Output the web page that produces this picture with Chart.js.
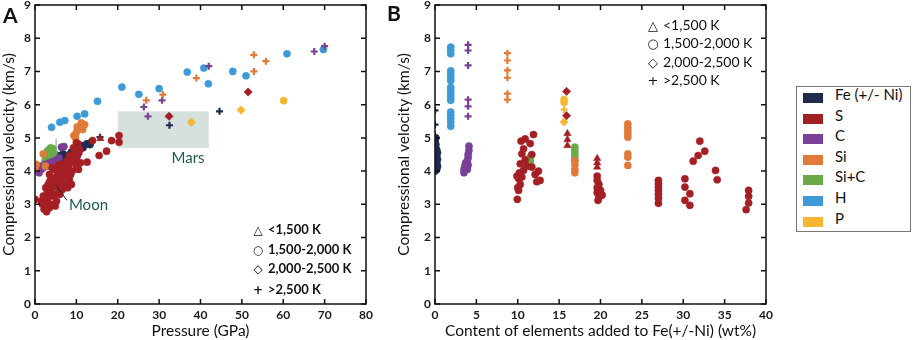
<!DOCTYPE html>
<html><head><meta charset="utf-8">
<script src="https://cdn.jsdelivr.net/npm/chart.js@4.4.1/dist/chart.umd.min.js"></script>
<style>
html,body{margin:0;padding:0;background:#fff;width:913px;height:340px;overflow:hidden;font-family:Lato,"Open Sans",sans-serif;}
.cv{position:absolute;top:-10px;}
.t{position:absolute;white-space:nowrap;color:#111;line-height:1;}
.panel{font-weight:bold;font-size:21px;}
.sym{font-family:"DejaVu Sans";display:inline-block;width:12px;text-align:center;margin-right:4px;}
#legend{position:absolute;left:796px;top:86px;width:115px;height:146px;border:1px solid #777;box-sizing:border-box;}
.li{position:absolute;left:6px;height:20px;font-size:15px;color:#111;}
.sw{position:absolute;left:0;width:20px;height:10px;}
.ln{position:absolute;left:32px;top:-8px;white-space:nowrap;}
</style></head><body>
<canvas id="cA" class="cv" style="left:0px" width="390" height="350"></canvas>
<canvas id="cB" class="cv" style="left:395px" width="390" height="350"></canvas>
<div class="t panel" style="left:3px;top:4px;">A</div>
<div class="t panel" style="left:387px;top:2px;">B</div>
<div id="symA"></div><div id="symB"></div>
<div id="legend"></div>
<script>
// ---------- categories ----------
const elementNames = ['Fe (+/- Ni)','S','C','Si','Si+C','H','P'];
const elementColors = ['#1e2b4f','#a41f24','#7a3f97','#e07a38','#6aaa4a','#3d9ad6','#f5b731'];
const tempLabels = ['<1,500 K','1,500-2,000 K','2,000-2,500 K','>2,500 K'];
const tempSymbols = ['\u25B3','\u25CB','\u25C7','+'];
const tempPointStyles = ['triangle','circle','rectRot','cross'];

// ---------- Panel A: [pressure GPa, Vp km/s] ----------
const aS_circle = [[0,3.15],[1.5,3.1],[1.8,3.0],[2.2,2.85],[2.8,2.78],[2.0,3.25],[2.5,3.2],[3,3.1],[3.0,3.4],[3.4,3.3],[2.6,3.5],[3.2,3.6],[3.8,3.45],[4.2,3.25],[4.4,3.0],[4.6,3.55],[4.0,3.8],[3.5,3.9],[5.0,3.7],[5.5,3.5],[5.9,3.75],[6.3,3.6],[6.8,3.85],[7.3,3.65],[7.8,3.95],[8.3,3.75],[8.6,3.9],[4.8,4.05],[5.6,4.15],[6.2,4.0],[7.0,4.2],[7.6,4.3],[8.1,4.1],[8.8,4.25],[9.2,4.4],[9.6,4.55],[8.5,4.45],[9.5,4.35],[10.5,4.05],[11.0,4.25],[10.0,4.17],[12.6,4.27],[10.4,4.82],[10.8,4.65],[13.9,4.92],[15.5,4.47],[17.3,4.6],[18.5,4.92],[20.3,5.07],[20.3,4.87],
  [3.5,2.9],[4.8,3.3],[5.2,3.1],[6.0,3.3],[6.5,3.9],[7.2,4.0],[7.9,3.5],[8.8,3.6],[9.0,4.0],[9.8,4.3],[10.2,4.45],[10.6,4.55],[5.4,3.9],[6.0,4.2],[4.2,4.1],[3.6,3.7],[2.4,3.0],[4.9,2.95],[6.6,3.45],[8.3,4.45],[9.3,4.7],[10.0,4.85]];
const aS_triangle = [[15.8,4.98]];
const aS_diamond = [[32.4,5.65],[51.5,6.38]];
const aSi_circle = [[9.4,5.07],[10,5.17],[10.2,5.33],[11.5,5.25],[11.6,5.35],[9.8,5.0],[12.0,5.4],[11.2,5.45],[2.0,4.52],[0,4.08],[0.3,4.2],[2.5,4.15]];
const aSi_cross = [[26.9,6.13],[30.9,6.30],[39,6.8],[52.9,7.5],[55.8,7.31],[52.9,7.0]];
const aC_circle = [[0.5,4.0],[1.0,3.95],[1.5,4.05],[1.2,4.15],[2.0,4.1],[2.5,4.2],[3.0,4.15],[3.5,4.25],[4.0,4.2],[4.5,4.3],[5.2,4.32],[5.8,4.4],[6.4,4.72],[7.0,4.74],[0.8,4.1]];
const aC_cross = [[26.3,5.93],[27.3,5.65],[30.7,6.13],[42,7.16],[67.5,7.6],[70,7.76]];
const aSiC_circle = [[2.4,4.3],[2.6,4.45],[3.0,4.6],[3.4,4.65],[3.8,4.7],[4.3,4.68],[2.8,4.2],[3.5,4.4],[4.0,4.5],[4.6,4.55],[2.2,4.5]];
const aFe_circle = [[4.4,4.37],[4.4,4.47],[5.6,4.47],[5.6,4.42],[6.8,4.52],[6.8,4.4],[8.4,4.5],[8.8,4.57],[10,4.6],[11.2,4.77],[11.6,4.7],[12.5,4.82],[13.3,4.8],[13.4,4.85],[4.8,4.17]];
const aFe_cross = [[15.7,5.02],[32.5,5.38],[44.6,5.8]];
const aH_circle = [[4.0,5.32],[6.0,5.47],[7.2,5.52],[10.2,5.65],[12.0,5.72],[15.1,6.10],[21.0,6.53],[25.1,6.31],[30.0,6.48],[36.8,6.98],[40.8,7.10],[41.9,6.63],[47.8,7.0],[51.0,6.87],[60.9,7.53],[69.7,7.66]];
const aP_diamond = [[37.8,5.47],[49.8,5.84]];
const aP_circle = [[60.1,6.12]];

// ---------- Panel B: [content wt%, Vp km/s] ----------
const bS_circle = [[9.95,3.15],[10.1,3.42],[10.3,3.6],[10.1,3.78],[10.5,3.82],[10.2,3.95],[10.7,4.02],[10.3,4.22],[10.9,4.34],[10.5,4.52],[10.7,4.67],[10.4,4.9],[10.9,4.97],[11.5,4.83],[11.9,5.1],[11.7,4.12],[12.1,3.9],[12.5,4.0],[12.7,3.72],[12.3,3.68],[11.7,4.5],[11.1,4.15],[9.9,3.85],[10.0,3.5],
  [19.6,3.85],[19.6,3.72],[19.8,3.6],[19.6,3.5],[20.0,3.42],[19.6,3.35],[20.2,3.28],[19.8,3.2],[19.7,3.12],
  [27,3.72],[27,3.62],[27,3.52],[27,3.42],[27,3.3],[27,3.18],[27,3.03],
  [30.2,3.77],[30.2,3.52],[30.8,3.32],[30.2,3.12],[30.8,2.97],
  [31.2,4.3],[31.8,4.47],[32.0,4.9],[32.6,4.6],[33.9,4.02],[34.1,3.74],
  [37.9,3.42],[37.9,3.24],[37.9,3.04],[37.6,2.84]];
const bS_triangle = [[16.0,5.13],[16.0,4.95],[16.0,4.77],[19.6,4.38],[19.6,4.25],[19.6,4.12]];
const bS_diamond = [[15.9,6.4],[15.9,5.67]];
const bSi_circle = [[16.9,4.32],[16.9,4.2],[16.9,4.05],[16.9,3.95],[23.3,5.42],[23.3,5.32],[23.3,5.22],[23.3,5.12],[23.3,5.02],[23.3,4.52],[23.3,4.42],[23.3,4.17]];
const bSi_cross = [[8.75,7.55],[8.75,7.33],[8.75,7.03],[8.75,6.81],[8.75,6.33],[8.75,6.15]];
const bC_circle = [[4.1,4.75],[4.1,4.62],[4.0,4.5],[4.0,4.4],[3.9,4.3],[3.7,4.25],[3.6,4.15],[3.5,4.05],[3.5,3.95],[3.9,4.05],[4.0,4.18],[3.8,4.12]];
const bC_cross = [[4,7.8],[4,7.63],[4,7.18],[4,6.15],[4,5.95],[4,5.65]];
const bSiC_circle = [[11.5,4.17],[11.5,4.25],[11.5,4.33],[11.5,4.42],[16.9,4.72],[16.9,4.62],[16.9,4.52],[16.9,4.42],[16.9,4.32]];
const bFe_circle = [[0,4.0],[0.2,4.05],[0,4.1],[0.3,4.15],[0,4.2],[0.2,4.25],[0,4.3],[0.3,4.35],[0,4.4],[0.2,4.45],[0,4.5],[0.3,4.55],[0,4.6],[0.2,4.65],[0,4.7],[0.1,4.8],[0,4.9],[0.1,5.0]];
const bFe_cross = [[0,5.83],[0,5.4],[0,5.05]];
const bH_circle = [[1.9,7.73],[1.9,7.63],[1.9,7.53],[1.9,7.02],[1.9,6.92],[1.9,6.82],[1.9,6.72],[1.9,6.52],[1.9,6.42],[1.9,6.32],[1.9,6.22],[1.9,6.13],[1.9,5.78],[1.9,5.68],[1.9,5.58],[1.9,5.48],[1.9,5.35]];
const bP_circle = [[15.6,6.15],[15.6,6.07]];
const bP_cross = [[15.6,5.85]];
const bP_diamond = [[15.6,5.48]];

// ---------- axis ticks ----------
const velocityTicks = [0,1,2,3,4,5,6,7,8,9];
const pressureTicks = [0,10,20,30,40,50,60,70,80];
const contentTicks = [0,5,10,15,20,25,30,35,40];

// annotation values
const marsBox = {x0:20, x1:42, y0:4.7, y1:5.8};

function ds(data, el, t){
  const c = elementColors[el];
  const cross = tempPointStyles[t]==='cross';
  return {data: data.map(p=>({x:p[0],y:p[1]})), pointStyle: tempPointStyles[t],
    backgroundColor: c, borderColor: c, borderWidth: cross?2.2:0.5,
    pointRadius: cross?3.5:(t===2?4.2:(t===0?4.2:3.6)), pointHoverRadius: 0};
}
// element idx: 0 Fe,1 S,2 C,3 Si,4 SiC,5 H,6 P ; temp idx: 0 tri,1 circ,2 diam,3 cross
const datasetsA = [ds(aS_circle,1,1),ds(aS_triangle,1,0),ds(aS_diamond,1,2),ds(aSi_circle,3,1),ds(aSi_cross,3,3),
  ds(aC_circle,2,1),ds(aC_cross,2,3),ds(aSiC_circle,4,1),ds(aFe_circle,0,1),ds(aFe_cross,0,3),ds(aH_circle,5,1),ds(aP_diamond,6,2),ds(aP_circle,6,1)];
const datasetsB = [ds(bS_circle,1,1),ds(bS_triangle,1,0),ds(bS_diamond,1,2),ds(bSi_circle,3,1),ds(bSi_cross,3,3),
  ds(bC_circle,2,1),ds(bC_cross,2,3),ds(bSiC_circle,4,1),ds(bFe_circle,0,1),ds(bFe_cross,0,3),ds(bH_circle,5,1),ds(bP_circle,6,1),ds(bP_cross,6,3),ds(bP_diamond,6,2)];

const frame = {
  id:'frame',
  beforeDatasetsDraw(chart, a, o){
    const {ctx} = chart, x = chart.scales.x, y = chart.scales.y;
    if (o.mars){
      const l=x.getPixelForValue(marsBox.x0), r=x.getPixelForValue(marsBox.x1);
      const t=y.getPixelForValue(marsBox.y1), b=y.getPixelForValue(marsBox.y0);
      ctx.save(); ctx.fillStyle='#d6e0dd'; ctx.fillRect(l,t,r-l,b-t);
      ctx.fillStyle='#1d5a4e'; ctx.font='15px Lato'; ctx.textBaseline='middle';
      ctx.fillText('Mars', x.getPixelForValue(33), y.getPixelForValue(4.38));
      ctx.strokeStyle='#8a9a96'; ctx.lineWidth=1;
      ctx.beginPath(); ctx.moveTo(x.getPixelForValue(5.1), y.getPixelForValue(4.98)); ctx.lineTo(x.getPixelForValue(5.1), y.getPixelForValue(3.57)); ctx.stroke();
      ctx.restore();
    }
  },
  afterDatasetsDraw(chart, a, o){
    const {ctx, chartArea:ca} = chart, x = chart.scales.x, y = chart.scales.y;
    ctx.save();
    if (o.mars){
      ctx.strokeStyle='#1d2a2a'; ctx.lineWidth=1;
      ctx.beginPath(); ctx.moveTo(x.getPixelForValue(5.1), y.getPixelForValue(3.57)); ctx.lineTo(x.getPixelForValue(7.7), y.getPixelForValue(3.12)); ctx.stroke();
      ctx.fillStyle='#1d5a4e'; ctx.font='15px Lato'; ctx.textBaseline='middle';
      ctx.fillText('Moon', x.getPixelForValue(8.2), y.getPixelForValue(2.97));
    }
    ctx.strokeStyle='#111'; ctx.lineWidth=1.5;
    ctx.strokeRect(ca.left, ca.top, ca.right-ca.left, ca.bottom-ca.top);
    ctx.beginPath();
    x.ticks.forEach(t=>{const p=x.getPixelForValue(t.value); ctx.moveTo(p,ca.bottom); ctx.lineTo(p,ca.bottom-5); ctx.moveTo(p,ca.top); ctx.lineTo(p,ca.top+5);});
    y.ticks.forEach(t=>{const p=y.getPixelForValue(t.value); ctx.moveTo(ca.left,p); ctx.lineTo(ca.left+5,p); ctx.moveTo(ca.right,p); ctx.lineTo(ca.right-5,p);});
    ctx.stroke();
    ctx.restore();
  }
};

Chart.defaults.font.family = 'Lato';
Chart.defaults.color = '#111';

function makeChart(id, datasets, xMax, xStep, xTitle, yWidth, rightPad, mars){
  return new Chart(document.getElementById(id), {
    type:'scatter',
    data:{datasets},
    plugins:[frame],
    options:{
      responsive:false, animation:false, events:[],
      layout:{padding:{top:15,right:rightPad,left:0,bottom:0}},
      plugins:{legend:{display:false}, tooltip:{enabled:false}, frame:{mars}},
      scales:{
        x:{type:'linear', min:0, max:xMax, grid:{display:false, drawTicks:false}, border:{display:false},
           ticks:{stepSize:xStep, padding:4, font:{size:12, weight:'bold'}, color:'#1a1a1a', maxRotation:0},
           title:{display:true, text:xTitle, font:{size:15.5}, padding:{top:0,bottom:0}, color:'#111'},
           afterFit(s){ s.height = 36; }},
        y:{type:'linear', min:0, max:9, grid:{display:false, drawTicks:false}, border:{display:false},
           ticks:{stepSize:1, padding:4, font:{size:12, weight:'bold'}, color:'#1a1a1a'},
           title:{display:true, text:'Compressional velocity (km/s)', font:{size:15.5}, padding:{top:0,bottom:0}, color:'#111'},
           afterFit(s){ s.width = yWidth; }}
      }
    }
  });
}
makeChart('cA', datasetsA, 80, 10, 'Pressure (GPa)', 35, 24, true);
makeChart('cB', datasetsB, 40, 5, 'Content of elements added to Fe(+/-Ni) (wt%)', 40, 19, false);

// temperature symbol legends
function symLegend(el, left, tops, size, weight){
  let h='';
  tempLabels.forEach((lab,i)=>{
    h += '<div class="t" style="left:'+left+'px;top:'+tops[i]+'px;font-size:'+size+'px;font-weight:'+weight+'"><span class="sym" style="font-size:'+(size-1)+'px">'+tempSymbols[i]+'</span>'+lab+'</div>';
  });
  document.getElementById(el).innerHTML = h;
}
symLegend('symA', 252, [223,243,262,283], 13, 'bold');
symLegend('symB', 647, [18,36,55,73], 14, 'normal');

// element legend
let lh='';
elementNames.forEach((n,i)=>{
  const top = 6 + i*20.6;
  lh += '<div class="li" style="top:'+top+'px"><div class="sw" style="background:'+elementColors[i]+'"></div><div class="ln">'+n+'</div></div>';
});
document.getElementById('legend').innerHTML=lh;
</script>
</body></html>
